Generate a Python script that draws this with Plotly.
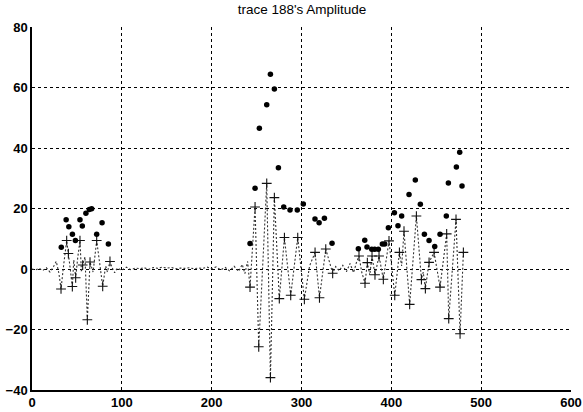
import plotly.graph_objects as go

# Signal trace (dotted line), vertices in x order
signal_x = [0, 4, 8, 12, 16, 20, 24, 27, 30,
            32.3, 35.5, 38.6, 40.5, 42.5, 44.9, 46.5, 48.6, 51, 53.4, 55, 56.4, 59, 61.6, 64.6, 68, 72, 75, 78.7, 82, 84, 86.8,
            89, 92, 95, 100, 105, 110, 115, 120, 125, 130, 135, 140, 145, 150, 155, 160, 165, 170, 175, 180, 185, 190,
            195, 200, 205, 210, 215, 220, 225, 230, 234, 237, 240,
            242.7, 248.3, 252.4, 261.3, 265.4, 269.8, 275.3, 281, 288, 295.8, 303.2, 309, 315.1, 320, 327, 334.7,
            338, 342, 346, 350, 354, 358, 361,
            364, 367, 370.7, 373.3, 376, 378.5, 381.8, 386.3, 391.1, 397.4, 403.8, 409, 411.5, 414.1, 420.4, 427.9,
            433.5, 435.5, 437.9, 442, 447.6, 454.2, 461.6, 463.9, 472, 476.5, 480.2]
signal_y = [0, -0.3, 0.2, -0.5, 0.4, -1.0, 0.8, 2.5, -1.5,
            -6.6, 2.0, 9.4, 5.1, -1, -5.8, 3, -2.9, 4, 9.4, -1, 1.3, 4, -16.8, 2.3, -1, 9.4, 2, -5.7, 1, -1, 2.5,
            0.5, -1.2, 0.3, -0.4, 0.6, -0.2, 0.3, 0.1, 0.4, -0.1, 0.5, 0.2, 0.6, 0.3, 0.5, 0.1, 0.3, 0.2, 0.4, 0.1, 0.3, 0.2,
            0.6, 0.1, 0.7, -0.3, 0.5, -0.6, 0.9, -0.8, 1.5, -1.5, 2.5,
            -6, 20.5, -25.7, 28.3, -35.9, 23.6, -9.8, 10.4, -8.7, 10.4, -10, 1, 5.5, -9.5, 6.6, -1.4,
            0.8, -0.6, 1.2, -0.9, 1.8, -1.2, 2.0,
            4.3, -1, -4.7, 2.1, -2, 4.3, -1.9, 4.3, -3.4, 9.3, -8.7, 5.5, 1, 12.5, -11.7, 17.5,
            -3.5, -1, -6.5, 2.2, 5.5, -6, 11.6, -16.4, 16.4, -21.4, 5.5]

# Peak samples marked with '+'
peak_x = [32.3, 38.6, 40.5, 44.9, 48.6, 53.4, 56.4, 61.6, 64.6, 72, 78.7, 86.8,
          242.7, 248.3, 252.4, 261.3, 265.4, 269.8, 275.3, 281, 288, 295.8, 303.2, 315.1, 320, 327, 334.7,
          364, 370.7, 373.3, 378.5, 381.8, 386.3, 391.1, 397.4, 403.8, 409, 414.1, 420.4, 427.9,
          433.5, 437.9, 442, 447.6, 454.2, 461.6, 463.9, 472, 476.5, 480.2]
peak_y = [-6.6, 9.4, 5.1, -5.8, -2.9, 9.4, 1.3, -16.8, 2.3, 9.4, -5.7, 2.5,
          -6, 20.5, -25.7, 28.3, -35.9, 23.6, -9.8, 10.4, -8.7, 10.4, -10, 5.5, -9.5, 6.6, -1.4,
          4.3, -4.7, 2.1, 4.3, -1.9, 4.3, -3.4, 9.3, -8.7, 5.5, 12.5, -11.7, 17.5,
          -3.5, -6.5, 2.2, 5.5, -6, 11.6, -16.4, 16.4, -21.4, 5.5]

# Amplitude (dots)
amp_x = [32.6, 38, 41, 45, 48.3, 53.4, 56, 60, 63.8, 66.4, 72, 78, 85,
         242.7, 248.3, 253.1, 261.3, 265.4, 269.8, 274.3, 280.2, 287.2, 295.3, 302, 315, 319.6, 325.5, 334,
         363.3, 370.4, 372.9, 378.2, 381.5, 385.5, 390, 392.6, 396.7, 403.4, 407.4, 411.5, 419.7, 426.7,
         432.3, 436.8, 442, 448.3, 454.2, 461.2, 463.5, 472.4, 476.1, 478.7]
amp_y = [7.2, 16.3, 14, 11.5, 9.4, 16.3, 14.2, 18.4, 19.7, 19.9, 11.5, 15.3, 8.3,
         8.4, 26.7, 46.5, 54.3, 64.4, 59.5, 33.5, 20.5, 19.5, 19.5, 21.5, 16.5, 15.3, 16.8, 8.5,
         6.7, 9.5, 7.3, 6.5, 6.5, 6.5, 8.3, 8.3, 13.6, 18.6, 14.3, 17.5, 24.6, 29.4,
         21.4, 11.5, 9.4, 7.4, 11.5, 17.5, 28.4, 33.7, 38.6, 27.4]

x_ticks = [0, 100, 200, 300, 400, 500, 600]
y_ticks = [-40, -20, 0, 20, 40, 60, 80]
title_text = "trace 188's Amplitude"

fig = go.Figure()
fig.add_trace(go.Scatter(x=signal_x, y=signal_y, mode="lines",
                         line=dict(color="#333333", width=1.1, dash="2px,2px"),
                         hoverinfo="skip"))
fig.add_trace(go.Scatter(x=peak_x, y=peak_y, mode="markers",
                         marker=dict(symbol="cross-thin", size=7, line=dict(color="#111111", width=1.1))))
fig.add_trace(go.Scatter(x=amp_x, y=amp_y, mode="markers",
                         marker=dict(symbol="circle", size=5.5, color="black")))

axis_font = dict(family="Liberation Sans, Arial, sans-serif", size=13, color="black", weight="bold")
fig.update_layout(
    width=583, height=412,
    margin=dict(l=32, r=12, t=27, b=22),
    paper_bgcolor="white", plot_bgcolor="white",
    showlegend=False,
    title=dict(text=title_text, x=0.518, xanchor="center", y=0.99, yanchor="top",
               font=dict(family="Liberation Sans, Arial, sans-serif", size=13.5, color="black")),
    xaxis=dict(range=[0, 600], tickvals=x_ticks, showgrid=True, gridcolor="black", gridwidth=1,
               griddash="3px,3px", zeroline=False, showline=True, linecolor="black", linewidth=1.5,
               ticks="", tickfont=axis_font, mirror=False, automargin=False),
    yaxis=dict(range=[-40, 80], tickvals=y_ticks, showgrid=True, gridcolor="black", gridwidth=1,
               griddash="3px,3px", zeroline=False, showline=True, linecolor="black", linewidth=1.5,
               ticks="", tickfont=axis_font, mirror=False, automargin=False, ticklabelstandoff=0),
)
fig.write_html("out.html")
